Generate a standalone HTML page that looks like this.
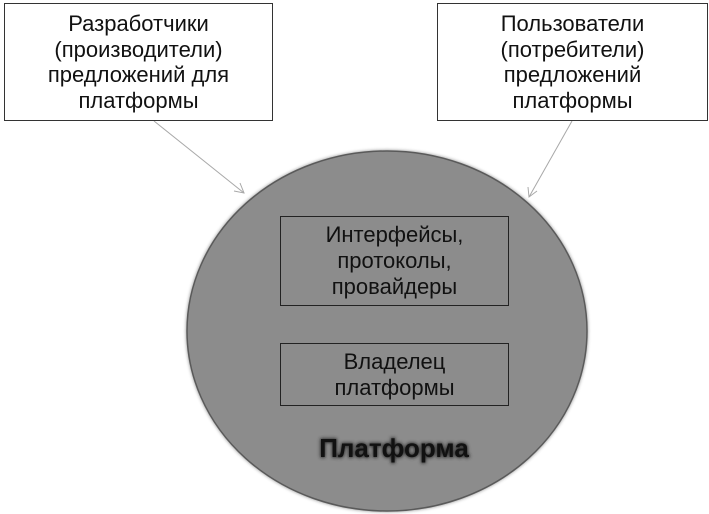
<!DOCTYPE html>
<html><head><meta charset="utf-8"><style>
body{margin:0;width:709px;height:514px;background:#fff;overflow:hidden;position:relative;font-family:"Liberation Sans",sans-serif}
.b{position:absolute;box-sizing:border-box;display:flex;align-items:center;justify-content:center;text-align:center;color:#111}
</style></head><body>
<svg width="709" height="514" style="position:absolute;left:0;top:0">
<defs><filter id="g" x="-20%" y="-20%" width="140%" height="140%"><feGaussianBlur stdDeviation="1.5"/></filter></defs>
<ellipse cx="387" cy="331" rx="201" ry="181" fill="#555" filter="url(#g)" opacity="0.6"/>
<ellipse cx="387" cy="331" rx="200" ry="180" fill="#8c8c8c" stroke="#5a5a5a" stroke-width="1.5"/>
<g stroke="#a8a8a8" stroke-width="1" fill="none">
<line x1="154" y1="121" x2="244" y2="193"/>
<polyline points="234,191 244,193 240,183"/>
<line x1="572" y1="121" x2="529" y2="197"/>
<polyline points="528,187 529,197 537,191"/>
</g>
<rect x="280.5" y="216.5" width="228" height="89" fill="none" stroke="#222" stroke-width="1"/>
<rect x="280.5" y="343.5" width="228" height="62" fill="none" stroke="#222" stroke-width="1"/>
<text x="394" y="457" text-anchor="middle" font-family="Liberation Sans" font-weight="bold" font-size="26" fill="#333" filter="url(#g)" stroke="#333" stroke-width="1.5">Платформа</text>
<text x="394" y="457" text-anchor="middle" font-family="Liberation Sans" font-weight="bold" font-size="26" fill="#111">Платформа</text>
</svg>
<div class="b" style="left:4px;top:3px;width:269px;height:118px;border:1px solid #333;background:#fff;font-size:22px;line-height:25.5px">Разработчики<br>(производители)<br>предложений для<br>платформы</div>
<div class="b" style="left:437px;top:3px;width:271px;height:118px;border:1px solid #333;background:#fff;font-size:22px;line-height:25.5px">Пользователи<br>(потребители)<br>предложений<br>платформы</div>
<div class="b" style="left:280px;top:216px;width:229px;height:90px;font-size:22px;line-height:26px">Интерфейсы,<br>протоколы,<br>провайдеры</div>
<div class="b" style="left:280px;top:343px;width:229px;height:63px;font-size:22px;line-height:26px">Владелец<br>платформы</div>
</body></html>
